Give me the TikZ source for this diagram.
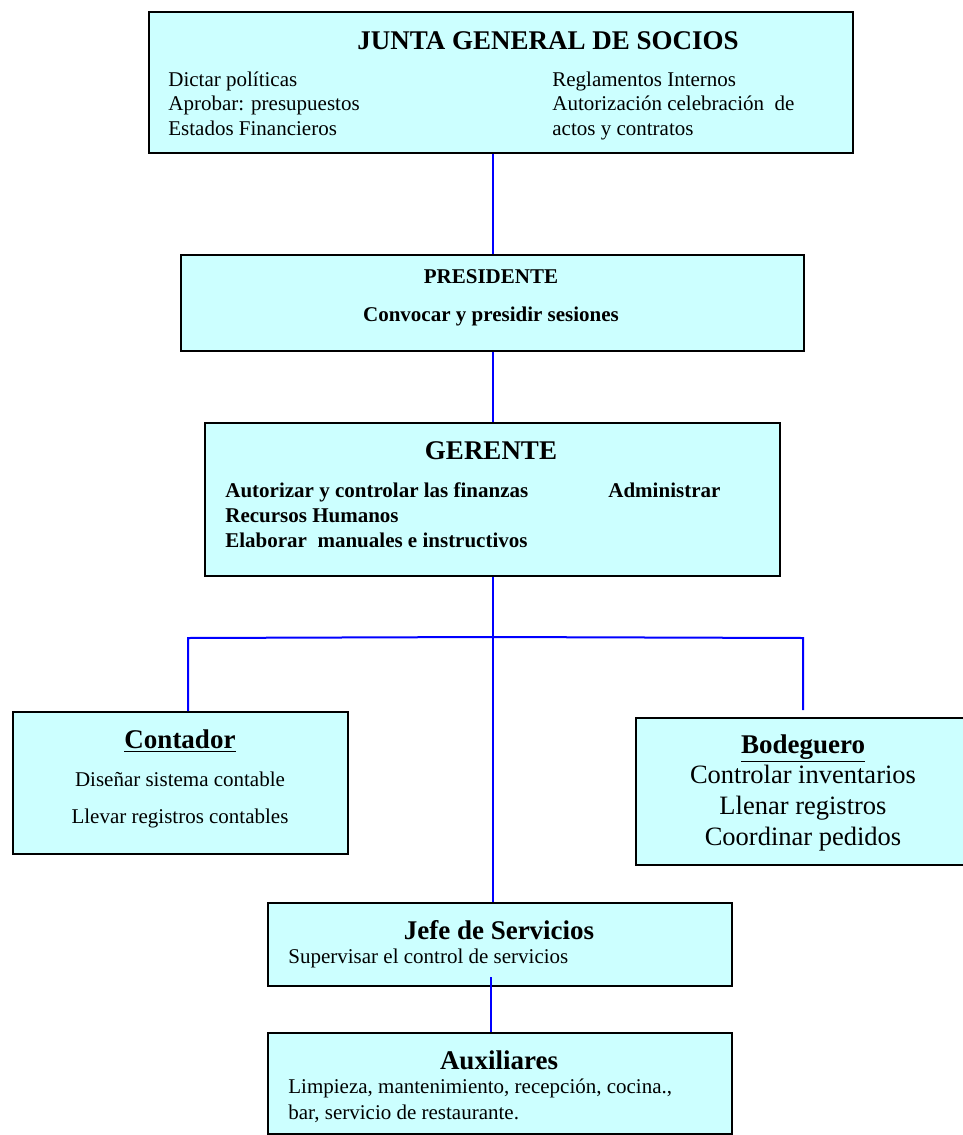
\documentclass[tikz,border=0pt]{standalone}
\usepackage{fontspec}
\setmainfont{Liberation Serif}
\usetikzlibrary{positioning}

\definecolor{celeste}{RGB}{204,255,255}
\newlength\pxu
\setlength\pxu{0.5pt}
\newcommand\cuerpo{\fontsize{10.5}{12.25}\selectfont}
\newcommand\titulo{\fontsize{13.5}{15}\selectfont\bfseries}

\begin{document}
\begin{tikzpicture}[x=0.5pt,y=-0.5pt,
  caja/.style={draw=black,line width=1.1pt,fill=celeste,anchor=north west,inner sep=0pt},
  linea/.style={draw=blue,line width=1pt},
  txt/.style={inner sep=0pt,align=left,font=\cuerpo}]
  \useasboundingbox (0,0) rectangle (963,1135);

  % cajas del organigrama
  \node[caja,minimum width=704\pxu,minimum height=141\pxu] (junta) at (148,11) {};
  \node[caja,minimum width=623\pxu,minimum height=96\pxu] (presidente) at (180,254) {};
  \node[caja,minimum width=575\pxu,minimum height=153\pxu] (gerente) at (204,422) {};
  \node[caja,minimum width=335\pxu,minimum height=142\pxu] (contador) at (12,711) {};
  \node[caja,minimum width=345\pxu,minimum height=147\pxu] (bodeguero) at (635,717) {};
  \node[caja,minimum width=464\pxu,minimum height=83\pxu] (jefe) at (267,902) {};
  \node[caja,minimum width=464\pxu,minimum height=101\pxu] (auxiliares) at (267,1032) {};

  % junta general (base = ultima linea)
  \node[txt,font=\titulo,anchor=base] (tJunta) at (548,49) {JUNTA GENERAL DE SOCIOS};
  \node[txt,anchor=base west] (juntaIzq) at (168,135)
  {Dictar políticas\\Aprobar: presupuestos\\Estados Financieros};
  \node[txt,anchor=base west] (juntaDer) at (552,135)
  {Reglamentos Internos\\Autorización celebración\ \ de\\actos y contratos};

  % presidente
  \node[txt,font=\cuerpo\bfseries,anchor=base] (tPres) at (491,283) {PRESIDENTE};
  \node[txt,font=\cuerpo\bfseries,anchor=base] (presFun) at (491,321) {Convocar y presidir sesiones};

  % gerente
  \node[txt,font=\titulo,anchor=base] (tGer) at (491,459) {GERENTE};
  \node[txt,font=\fontsize{10.5}{12.5}\selectfont\bfseries,anchor=base west] (gerFun) at (225,547)
  {Autorizar y controlar las finanzas\\Recursos Humanos\\Elaborar\ \ manuales e instructivos};
  \node[txt,font=\cuerpo\bfseries,anchor=base west] (gerAdm) at (608,497) {Administrar};

  % contador
  \node[txt,font=\titulo,anchor=base] (tCont) at (180,748) {\underline{Contador}};
  \node[txt,font=\fontsize{10.5}{18.5}\selectfont,align=center,anchor=base] (contFun) at (180,823)
  {Diseñar sistema contable\\Llevar registros contables};

  % bodeguero
  \node[txt,font=\titulo,anchor=base] (tBod) at (803,753) {\underline{Bodeguero}};
  \node[txt,font=\fontsize{13.25}{15.3}\selectfont,align=center,anchor=base] (bodFun) at (803,845)
  {Controlar inventarios\\Llenar registros\\Coordinar pedidos};

  % jefe de servicios y auxiliares
  \node[txt,font=\titulo,anchor=base] (tJefe) at (499,939) {Jefe de Servicios};
  \node[txt,anchor=base west] (jefeFun) at (288,963) {Supervisar el control de servicios};
  \node[txt,font=\titulo,anchor=base] (tAux) at (499,1069) {Auxiliares};
  \node[txt,font=\fontsize{10.5}{13}\selectfont,anchor=base west] (auxFun) at (288,1119)
  {Limpieza, mantenimiento, recepción, cocina.,\\bar, servicio de restaurante.};

  % lineas de mando
  \coordinate (rama) at (491,637);
  \coordinate (ramaI) at (188,638);
  \coordinate (ramaD) at (803,638);
  \coordinate (finD) at (803,710);
  \draw[linea] (junta.south -| presidente.north) -- (presidente.north);
  \draw[linea] (presidente.south) -- (gerente.north);
  \draw[linea] (gerente.south) -- (gerente.south |- jefe.north);
  \draw[linea] (contador.north -| ramaI) -- (ramaI) -- (rama) -- (ramaD) -- (finD);
  \draw[linea] ([yshift=5pt]jefe.south -| rama) -- (auxiliares.north -| rama);
\end{tikzpicture}
\end{document}
